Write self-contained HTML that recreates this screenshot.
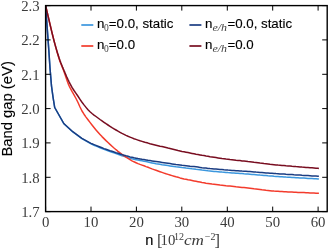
<!DOCTYPE html>
<html><head><meta charset="utf-8"><title>Band gap</title>
<style>
html,body{margin:0;padding:0;background:#fff;}
body{width:329px;height:250px;overflow:hidden;position:relative;}
svg{position:absolute;left:0;top:0;display:block;}
.tk{font-family:"Liberation Serif",serif;font-size:14.8px;fill:#3c3c3c;}
.sn{font-family:"Liberation Sans",sans-serif;font-size:13.3px;fill:#000;stroke:#000;stroke-width:0.12px;}
.sub{font-family:"Liberation Serif",serif;font-size:9.5px;fill:#444;}
.subi{font-family:"Liberation Serif",serif;font-style:italic;font-size:10.5px;fill:#444;}
</style></head><body>
<svg width="329" height="250" viewBox="0 0 329 250">
<rect x="0" y="0" width="329" height="250" fill="#fff"/>

<clipPath id="ax"><rect x="45.6" y="5.6" width="281.59999999999997" height="206.0"/></clipPath>
<g fill="none" stroke-width="1.5" stroke-linejoin="round" stroke-linecap="butt" clip-path="url(#ax)">
<polyline stroke="#3b97de" points="45.6,5.6 48.8,50.0 50.0,68.0 51.5,86.0 53.0,97.0 54.7,107.5 63.8,123.7 72.8,132.0 81.9,138.7 91.0,143.8 92.0,144.3 94.0,145.2 96.0,146.1 98.0,146.9 100.0,147.7 102.0,148.5 104.0,149.3 106.0,150.0 108.0,150.8 110.0,151.5 112.0,152.2 114.0,152.9 116.0,153.6 118.0,154.3 120.0,155.0 122.0,155.7 124.0,156.3 126.0,156.9 128.0,157.6 130.0,158.2 132.0,158.8 134.0,159.3 136.0,159.7 138.0,160.1 140.0,160.5 142.0,160.8 144.0,161.2 146.0,161.6 148.0,162.0 150.0,162.5 152.0,162.9 154.0,163.3 156.0,163.7 158.0,164.0 160.0,164.3 162.0,164.7 164.0,165.0 166.0,165.3 168.0,165.6 170.0,165.9 172.0,166.2 174.0,166.5 176.0,166.8 178.0,167.0 180.0,167.3 182.0,167.6 184.0,167.8 186.0,168.1 188.0,168.3 190.0,168.5 192.0,168.8 194.0,169.0 196.0,169.3 198.0,169.5 200.0,169.8 202.0,170.1 204.0,170.3 206.0,170.5 208.0,170.8 210.0,171.0 212.0,171.2 214.0,171.4 216.0,171.5 218.0,171.7 220.0,171.9 222.0,172.1 224.0,172.2 226.0,172.4 228.0,172.6 230.0,172.7 232.0,172.9 234.0,173.0 236.0,173.2 238.0,173.3 240.0,173.5 242.0,173.6 244.0,173.8 246.0,173.9 248.0,174.0 250.0,174.2 252.0,174.4 254.0,174.5 256.0,174.7 258.0,174.9 260.0,175.1 262.0,175.2 264.0,175.4 266.0,175.6 268.0,175.8 270.0,175.9 272.0,176.1 274.0,176.3 276.0,176.4 278.0,176.5 280.0,176.7 282.0,176.8 284.0,176.9 286.0,177.1 288.0,177.2 290.0,177.3 292.0,177.4 294.0,177.5 296.0,177.7 298.0,177.8 300.0,177.9 302.0,178.0 304.0,178.1 306.0,178.2 308.0,178.4 310.0,178.5 312.0,178.6 314.0,178.7 316.0,178.8 318.0,178.9 318.9,179.0"/>
<polyline stroke="#f33b2c" points="45.6,5.6 46.0,7.3 46.4,8.9 46.8,10.6 47.2,12.3 47.6,14.0 48.0,15.7 48.4,17.4 48.8,19.1 49.2,20.8 49.6,22.5 50.0,24.2 50.4,25.9 50.8,27.6 51.2,29.2 51.6,30.9 52.0,32.6 52.4,34.2 52.8,35.8 53.2,37.4 53.6,39.0 54.0,40.6 54.4,42.1 54.8,43.6 55.2,45.1 55.6,46.6 56.0,48.1 56.4,49.6 56.8,51.0 57.2,52.5 57.6,53.9 58.0,55.2 58.4,56.6 58.8,57.9 59.2,59.1 59.6,60.3 60.0,61.4 60.4,62.5 60.8,63.5 61.2,64.5 61.6,65.5 62.0,66.5 62.4,67.5 62.8,68.5 63.2,69.5 63.6,70.5 64.0,71.6 64.4,72.8 64.8,73.9 65.2,75.1 65.6,76.3 66.0,77.4 66.4,78.6 66.8,79.8 67.2,80.9 67.6,82.0 68.0,83.1 68.4,84.1 68.8,85.1 69.2,86.0 69.6,86.9 70.0,87.7 72.0,91.4 74.0,94.9 76.0,98.5 78.0,102.5 80.0,107.0 82.0,111.0 84.0,114.2 86.0,117.1 88.0,119.8 90.0,122.4 92.0,125.0 94.0,127.5 96.0,129.9 98.0,132.2 100.0,134.4 102.0,136.6 104.0,138.6 106.0,140.6 108.0,142.5 110.0,144.4 112.0,146.2 114.0,148.0 116.0,149.7 118.0,151.3 120.0,152.8 122.0,154.3 124.0,155.8 126.0,157.1 128.0,158.4 130.0,159.6 132.0,160.8 134.0,161.8 136.0,162.7 138.0,163.6 140.0,164.4 142.0,165.1 144.0,165.8 146.0,166.6 148.0,167.3 150.0,168.1 152.0,168.9 154.0,169.6 156.0,170.3 158.0,171.0 160.0,171.7 162.0,172.4 164.0,173.1 166.0,173.8 168.0,174.4 170.0,175.0 172.0,175.6 174.0,176.2 176.0,176.8 178.0,177.3 180.0,177.9 182.0,178.4 184.0,178.9 186.0,179.3 188.0,179.8 190.0,180.1 192.0,180.5 194.0,180.9 196.0,181.3 198.0,181.7 200.0,182.1 202.0,182.5 204.0,182.8 206.0,183.2 208.0,183.5 210.0,183.8 212.0,184.1 214.0,184.3 216.0,184.5 218.0,184.7 220.0,185.0 222.0,185.2 224.0,185.4 226.0,185.7 228.0,185.9 230.0,186.1 232.0,186.3 234.0,186.5 236.0,186.8 238.0,187.0 240.0,187.2 242.0,187.4 244.0,187.6 246.0,187.8 248.0,188.0 250.0,188.2 252.0,188.4 254.0,188.7 256.0,188.9 258.0,189.2 260.0,189.5 262.0,189.8 264.0,190.0 266.0,190.3 268.0,190.5 270.0,190.7 272.0,190.9 274.0,191.1 276.0,191.2 278.0,191.3 280.0,191.5 282.0,191.6 284.0,191.7 286.0,191.8 288.0,191.9 290.0,192.0 292.0,192.1 294.0,192.2 296.0,192.3 298.0,192.4 300.0,192.5 302.0,192.5 304.0,192.6 306.0,192.7 308.0,192.8 310.0,192.9 312.0,193.0 314.0,193.1 316.0,193.2 318.0,193.3 318.9,193.3"/>
<polyline stroke="#1b3d82" points="45.6,5.6 48.8,50.0 50.0,68.0 51.5,86.0 53.0,97.0 54.7,107.5 63.8,123.5 72.8,131.7 81.9,138.3 91.0,143.3 92.0,143.8 94.0,144.6 96.0,145.4 98.0,146.2 100.0,147.0 102.0,147.8 104.0,148.6 106.0,149.3 108.0,150.0 110.0,150.7 112.0,151.3 114.0,152.0 116.0,152.7 118.0,153.3 120.0,154.0 122.0,154.6 124.0,155.2 126.0,155.8 128.0,156.3 130.0,156.9 132.0,157.3 134.0,157.8 136.0,158.2 138.0,158.6 140.0,158.9 142.0,159.3 144.0,159.6 146.0,159.9 148.0,160.3 150.0,160.6 152.0,160.9 154.0,161.2 156.0,161.5 158.0,161.8 160.0,162.1 162.0,162.4 164.0,162.7 166.0,163.0 168.0,163.3 170.0,163.6 172.0,163.9 174.0,164.2 176.0,164.5 178.0,164.7 180.0,165.0 182.0,165.3 184.0,165.5 186.0,165.7 188.0,165.9 190.0,166.2 192.0,166.4 194.0,166.6 196.0,166.8 198.0,167.1 200.0,167.4 202.0,167.7 204.0,167.9 206.0,168.1 208.0,168.4 210.0,168.6 212.0,168.7 214.0,168.9 216.0,169.1 218.0,169.3 220.0,169.5 222.0,169.6 224.0,169.8 226.0,169.9 228.0,170.1 230.0,170.2 232.0,170.4 234.0,170.5 236.0,170.7 238.0,170.8 240.0,170.9 242.0,171.1 244.0,171.2 246.0,171.3 248.0,171.5 250.0,171.6 252.0,171.7 254.0,171.9 256.0,172.1 258.0,172.2 260.0,172.4 262.0,172.5 264.0,172.7 266.0,172.9 268.0,173.0 270.0,173.2 272.0,173.3 274.0,173.4 276.0,173.6 278.0,173.7 280.0,173.9 282.0,174.0 284.0,174.1 286.0,174.3 288.0,174.4 290.0,174.5 292.0,174.6 294.0,174.8 296.0,174.9 298.0,175.0 300.0,175.1 302.0,175.3 304.0,175.4 306.0,175.5 308.0,175.6 310.0,175.7 312.0,175.9 314.0,176.0 316.0,176.1 318.0,176.2 318.9,176.3"/>
<polyline stroke="#780d20" points="45.6,5.6 46.0,7.3 46.4,8.9 46.8,10.6 47.2,12.3 47.6,14.0 48.0,15.8 48.4,17.5 48.8,19.2 49.2,20.9 49.6,22.6 50.0,24.3 50.4,26.0 50.8,27.7 51.2,29.4 51.6,31.1 52.0,32.7 52.4,34.4 52.8,36.0 53.2,37.6 53.6,39.1 54.0,40.7 54.4,42.2 54.8,43.6 55.2,45.1 55.6,46.5 56.0,47.9 56.4,49.3 56.8,50.6 57.2,52.0 57.6,53.3 58.0,54.6 58.4,55.8 58.8,57.1 59.2,58.3 59.6,59.4 60.0,60.6 60.4,61.6 60.8,62.7 61.2,63.7 61.6,64.7 62.0,65.7 62.4,66.7 62.8,67.6 63.2,68.6 63.6,69.5 64.0,70.5 64.4,71.4 64.8,72.4 65.2,73.3 65.6,74.2 66.0,75.1 66.4,76.1 66.8,77.0 67.2,77.8 67.6,78.7 68.0,79.6 68.4,80.4 68.8,81.3 69.2,82.1 69.6,82.9 70.0,83.7 72.0,87.4 74.0,90.5 76.0,93.4 78.0,96.3 80.0,99.3 82.0,102.2 84.0,104.9 86.0,107.4 88.0,109.8 90.0,111.8 92.0,113.5 94.0,115.1 96.0,116.5 98.0,118.0 100.0,119.5 102.0,120.9 104.0,122.3 106.0,123.7 108.0,125.0 110.0,126.3 112.0,127.6 114.0,128.8 116.0,130.0 118.0,131.2 120.0,132.3 122.0,133.4 124.0,134.4 126.0,135.4 128.0,136.3 130.0,137.1 132.0,137.9 134.0,138.7 136.0,139.4 138.0,140.1 140.0,140.8 142.0,141.4 144.0,142.0 146.0,142.6 148.0,143.1 150.0,143.7 152.0,144.2 154.0,144.7 156.0,145.2 158.0,145.7 160.0,146.2 162.0,146.6 164.0,147.1 166.0,147.6 168.0,148.1 170.0,148.5 172.0,149.0 174.0,149.5 176.0,150.0 178.0,150.5 180.0,150.9 182.0,151.4 184.0,151.8 186.0,152.2 188.0,152.6 190.0,153.0 192.0,153.4 194.0,153.8 196.0,154.2 198.0,154.5 200.0,154.9 202.0,155.3 204.0,155.6 206.0,156.0 208.0,156.3 210.0,156.7 212.0,157.0 214.0,157.3 216.0,157.6 218.0,157.9 220.0,158.2 222.0,158.5 224.0,158.7 226.0,159.0 228.0,159.2 230.0,159.5 232.0,159.7 234.0,159.9 236.0,160.2 238.0,160.4 240.0,160.6 242.0,160.9 244.0,161.1 246.0,161.3 248.0,161.6 250.0,161.8 252.0,162.0 254.0,162.3 256.0,162.5 258.0,162.8 260.0,163.1 262.0,163.3 264.0,163.6 266.0,163.8 268.0,164.0 270.0,164.3 272.0,164.5 274.0,164.7 276.0,164.9 278.0,165.1 280.0,165.2 282.0,165.4 284.0,165.6 286.0,165.8 288.0,165.9 290.0,166.1 292.0,166.3 294.0,166.4 296.0,166.6 298.0,166.7 300.0,166.9 302.0,167.1 304.0,167.2 306.0,167.4 308.0,167.5 310.0,167.7 312.0,167.8 314.0,168.0 316.0,168.2 318.0,168.3 318.9,168.4"/>
</g>
<g stroke="#000" stroke-width="1" fill="none">
<line x1="45.6" y1="211.6" x2="45.6" y2="206.6"/>
<line x1="45.6" y1="5.6" x2="45.6" y2="10.6"/>
<line x1="91.0" y1="211.6" x2="91.0" y2="206.6"/>
<line x1="91.0" y1="5.6" x2="91.0" y2="10.6"/>
<line x1="136.4" y1="211.6" x2="136.4" y2="206.6"/>
<line x1="136.4" y1="5.6" x2="136.4" y2="10.6"/>
<line x1="181.8" y1="211.6" x2="181.8" y2="206.6"/>
<line x1="181.8" y1="5.6" x2="181.8" y2="10.6"/>
<line x1="227.3" y1="211.6" x2="227.3" y2="206.6"/>
<line x1="227.3" y1="5.6" x2="227.3" y2="10.6"/>
<line x1="272.7" y1="211.6" x2="272.7" y2="206.6"/>
<line x1="272.7" y1="5.6" x2="272.7" y2="10.6"/>
<line x1="318.1" y1="211.6" x2="318.1" y2="206.6"/>
<line x1="318.1" y1="5.6" x2="318.1" y2="10.6"/>
<line x1="45.6" y1="211.6" x2="50.6" y2="211.6"/>
<line x1="327.2" y1="211.6" x2="322.2" y2="211.6"/>
<line x1="45.6" y1="177.3" x2="50.6" y2="177.3"/>
<line x1="327.2" y1="177.3" x2="322.2" y2="177.3"/>
<line x1="45.6" y1="142.9" x2="50.6" y2="142.9"/>
<line x1="327.2" y1="142.9" x2="322.2" y2="142.9"/>
<line x1="45.6" y1="108.6" x2="50.6" y2="108.6"/>
<line x1="327.2" y1="108.6" x2="322.2" y2="108.6"/>
<line x1="45.6" y1="74.3" x2="50.6" y2="74.3"/>
<line x1="327.2" y1="74.3" x2="322.2" y2="74.3"/>
<line x1="45.6" y1="39.9" x2="50.6" y2="39.9"/>
<line x1="327.2" y1="39.9" x2="322.2" y2="39.9"/>
<line x1="45.6" y1="5.6" x2="50.6" y2="5.6"/>
<line x1="327.2" y1="5.6" x2="322.2" y2="5.6"/>
</g>
<rect x="45.6" y="5.6" width="281.59999999999997" height="206.0" fill="none" stroke="#000" stroke-width="1.4"/>
<text class="tk" x="45.6" y="227" text-anchor="middle">0</text>
<text class="tk" x="91.0" y="227" text-anchor="middle">10</text>
<text class="tk" x="136.4" y="227" text-anchor="middle">20</text>
<text class="tk" x="181.8" y="227" text-anchor="middle">30</text>
<text class="tk" x="227.3" y="227" text-anchor="middle">40</text>
<text class="tk" x="272.7" y="227" text-anchor="middle">50</text>
<text class="tk" x="318.1" y="227" text-anchor="middle">60</text>
<text class="tk" x="39.7" y="217.0" text-anchor="end">1.7</text>
<text class="tk" x="39.7" y="182.7" text-anchor="end">1.8</text>
<text class="tk" x="39.7" y="148.3" text-anchor="end">1.9</text>
<text class="tk" x="39.7" y="114.0" text-anchor="end">2.0</text>
<text class="tk" x="39.7" y="79.7" text-anchor="end">2.1</text>
<text class="tk" x="39.7" y="45.3" text-anchor="end">2.2</text>
<text class="tk" x="39.7" y="11.0" text-anchor="end">2.3</text>
<text class="sn" style="font-size:14.8px" transform="translate(11.7,108.9) rotate(-90)" text-anchor="middle">Band gap (eV)</text>
<text><tspan class="sn" style="font-size:14.6px" x="145.2" y="244.6">n </tspan><tspan class="tk" style="font-size:16.6px" x="157.0" y="246.0">[</tspan><tspan class="tk" x="160.6" y="244.8">10</tspan><tspan class="tk" style="font-size:10px" x="174.0" y="240.0">12</tspan><tspan class="tk" font-style="italic" x="184" y="244.8" textLength="20" lengthAdjust="spacingAndGlyphs">cm</tspan><tspan class="tk" style="font-size:10px" x="204.8" y="240.0">−2</tspan><tspan class="tk" style="font-size:16.6px" x="214.6" y="246.0">]</tspan></text>
<line x1="81.3" y1="25.0" x2="93.3" y2="25.0" stroke="#3b97de" stroke-width="1.7"/>
<text><tspan class="sn" x="96.9" y="27.9">n</tspan><tspan class="sub" x="104.1" y="30.7">0</tspan><tspan class="sn" x="108.8" y="27.9">=0.0, static</tspan></text>
<line x1="81.3" y1="46.0" x2="93.3" y2="46.0" stroke="#f33b2c" stroke-width="1.7"/>
<text><tspan class="sn" x="96.9" y="48.8">n</tspan><tspan class="sub" x="104.1" y="51.6">0</tspan><tspan class="sn" x="108.8" y="48.8">=0.0</tspan></text>
<line x1="189.4" y1="25.0" x2="201.4" y2="25.0" stroke="#1b3d82" stroke-width="1.7"/>
<text><tspan class="sn" x="205.0" y="27.9">n</tspan><tspan class="subi" x="212.4" y="30.7" textLength="14.6" lengthAdjust="spacingAndGlyphs">e/h</tspan><tspan class="sn" x="227.4" y="27.9">=0.0, static</tspan></text>
<line x1="189.4" y1="46.0" x2="201.4" y2="46.0" stroke="#780d20" stroke-width="1.7"/>
<text><tspan class="sn" x="205.0" y="48.8">n</tspan><tspan class="subi" x="212.4" y="51.6" textLength="14.6" lengthAdjust="spacingAndGlyphs">e/h</tspan><tspan class="sn" x="227.4" y="48.8">=0.0</tspan></text>
</svg></body></html>
